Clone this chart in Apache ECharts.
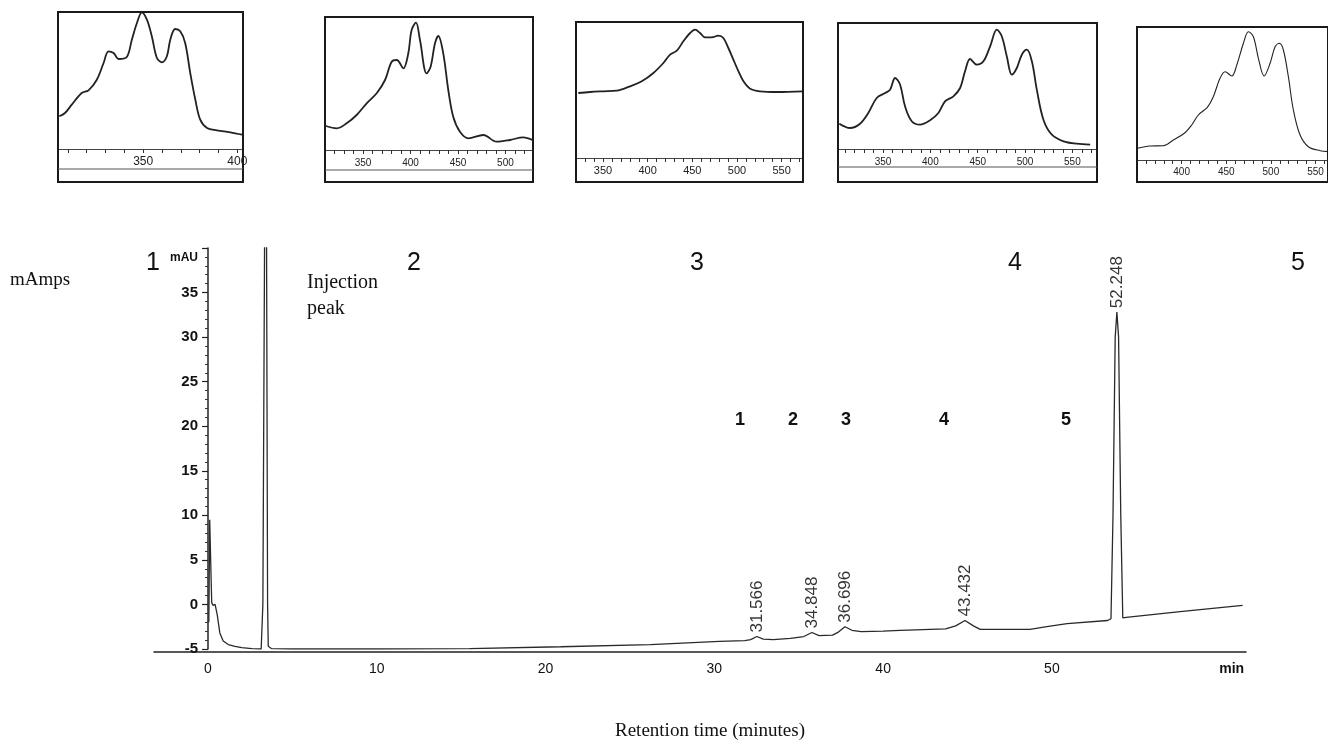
<!DOCTYPE html>
<html>
<head>
<meta charset="utf-8">
<script src="https://cdn.jsdelivr.net/npm/echarts@6/dist/echarts.min.js"></script>
<style>
html,body{margin:0;padding:0;background:#fff;}
#c{width:1328px;height:746px;}
</style>
</head>
<body>
<div id="c"></div>
<script>
// ---------- main chromatogram (time in min, signal in mAU) ----------
const traceTime = [0.05,0.1,0.16,0.22,0.3,0.42,0.55,0.7,0.9,1.2,1.6,2.0,2.6,3.15,
  3.25,3.35,3.42,3.47,3.53,3.57,3.65,3.75,5,10,15.5,20.9,26.2,30.3,31.8,32.15,32.52,32.9,
  33.5,34.5,35.3,35.78,36.2,37.0,37.35,37.74,38.15,38.7,40.0,41.0,43.7,44.3,44.85,45.35,
  45.75,48.7,49.7,50.9,53.3,53.5,53.62,53.75,53.85,53.95,54.08,54.2,54.4,57.6,61.3];
const traceSignal = [-2,9.5,9.3,0.2,-0.1,0.0,-1.2,-3.2,-4.1,-4.5,-4.7,-4.85,-4.95,-5.0,
  0,40,90,40,0,-4.7,-4.6,-4.95,-5.0,-5.0,-4.95,-4.75,-4.5,-4.15,-4.05,-3.95,-3.6,-3.9,
  -3.95,-3.8,-3.6,-3.15,-3.5,-3.45,-3.1,-2.5,-2.9,-3.05,-3.0,-2.9,-2.75,-2.4,-1.8,-2.4,
  -2.8,-2.8,-2.5,-2.15,-1.8,-1.6,10,30,32.8,30,10,-1.5,-1.45,-0.8,-0.1];

const peakTime = [32.52, 35.78, 37.74, 44.85, 53.85];
const peakSignal = [-3.6, -3.15, -2.5, -1.8, 32.8];
const peakLabels = ['31.566', '34.848', '36.696', '43.432', '52.248'];

const xTickValues = [0, 10, 20, 30, 40, 50, 60];
const xTickLabels = ['0', '10', '20', '30', '40', '50', 'min'];
const yTopLabel = 'mAU';

// ---------- inset spectra (wavelength nm, relative absorbance) ----------
const spec1Nm = [305.5,308.5,312.1,317.4,321,325.4,329,331.6,334.3,337,341.3,344,346.7,349.3,352,354.6,357.3,360,362.6,364.4,367,369.7,372.3,375,377.7,380.3,383.9,389.2,396.3,402.5];
const spec1Abs = [32.7,36,44.3,56,58.7,69.3,86,97.7,96,90,92,109.3,126,136.7,129.3,112.7,91,86.7,92.7,109.3,120,117.7,106,76,49.3,29.3,21,18.7,16.7,14.3];
const spec2Nm = [311,322.3,332.8,343.3,353.9,364.4,373.2,380.2,385.5,392.5,397.7,401.2,405.8,410,417,421.2,425.8,429.3,434.5,439.8,445,452.1,460.9,476.7,490.7,504.7,518.8,528.6];
const spec2Abs = [24,21.7,26.7,35,46.7,56.7,70,88.3,90,81.7,96.7,120,127.3,110,76.7,83.3,106.7,114,96.7,60,33.3,18.3,11.7,15,8.3,10,12.7,10];
const spec3Nm = [322.3,335.4,350.3,365.3,380.2,393.4,406.4,417.6,425.1,432.6,440,447.5,453.1,458.7,464.3,471.8,479.2,484.8,490.4,496,501.7,507.3,514.8,526,544.7,574];
const spec3Abs = [65,66,66.7,67.3,71.7,76.7,85,95,103.3,107.3,116.7,125,128.3,125,120.7,120.7,122.3,120,110,98.3,86.7,76.7,69.3,66.7,66,66.7];
const spec4Nm = [303.8,315.1,325.7,334.4,343.3,352.1,357.4,362.7,368,373.2,380.3,389.1,399.7,408.4,415.5,424.3,431.4,436.6,441.9,449,456,463.1,470.2,475.4,480.7,486,491.3,496.6,501.9,507.2,512.4,519.4,528.3,540.6,554.7,568.8];
const spec4Abs = [25.3,21,25.3,36,51,56,59.3,71,64.3,42.7,27.7,24.3,28.7,36,47.7,52.7,61,77.7,90,84.3,87.7,102.7,119.3,112.7,92.7,74.3,81,94.3,99.3,87.7,59.3,29.3,14.3,7.7,5.3,4.3];
const spec5Nm = [350.4,364.6,379.5,390.7,403.8,411.3,418.7,428.8,435.5,443,448.7,456.2,461.8,469.2,474.8,480.4,486,492.4,499.1,504.7,509.5,514,519.6,525.2,532.7,542,555.2,564.5];
const spec5Abs = [11.7,14,14.3,20,27.3,35,45,52.7,63.3,81.7,88.3,84,95,116.7,128.3,123.3,101.7,84,96.7,113.3,116.7,110,83.3,50,25,13.3,9.3,8.3];

const specLabels1 = [350, 400];
const specLabels2 = [350, 400, 450, 500];
const specLabels3 = [350, 400, 450, 500, 550];
const specLabels4 = [350, 400, 450, 500, 550];
const specLabels5 = [400, 450, 500, 550];
const specTicks1 = [310,320,330,340,350,360,370,380,390,400];
const specTicks2 = [320,330,340,350,360,370,380,390,400,410,420,430,440,450,460,470,480,490,500,510,520];
const specTicks3 = [330,340,350,360,370,380,390,400,410,420,430,440,450,460,470,480,490,500,510,520,530,540,550,560,570];
const specTicks4 = [310,320,330,340,350,360,370,380,390,400,410,420,430,440,450,460,470,480,490,500,510,520,530,540,550,560,570];
const specTicks5 = [360,370,380,390,400,410,420,430,440,450,460,470,480,490,500,510,520,530,540,550,560];

const regionLabels = ['1', '2', '3', '4', '5'];
const peakNumbers = ['1', '2', '3', '4', '5'];

// ---------- build ----------
const zip = (a, b) => a.map((v, i) => [v, b[i]]);
const SANS = 'Liberation Sans, Arial, Helvetica, sans-serif';
const SERIF = 'Liberation Serif, Times New Roman, serif';

const insetBoxes = [
  {left: 58, top: 12, width: 185, height: 137, boxH: 170, xmin: 304.8, xmax: 403, ymax: 137, labels: specLabels1, ticks: specTicks1, fs: 12, margin: 7, nm: spec1Nm, abs: spec1Abs, lw: 1.8, second: 169},
  {left: 325, top: 17, width: 208, height: 133, boxH: 165, xmin: 310, xmax: 529, ymax: 133, labels: specLabels2, ticks: specTicks2, fs: 10, margin: 8, nm: spec2Nm, abs: spec2Abs, lw: 1.8, second: 170},
  {left: 576, top: 22, width: 227, height: 136, boxH: 160, xmin: 319.7, xmax: 574, ymax: 136, labels: specLabels3, ticks: specTicks3, fs: 11, margin: 7, nm: spec3Nm, abs: spec3Abs, lw: 1.8, second: null},
  {left: 838, top: 23, width: 259, height: 126, boxH: 159, xmin: 302.4, xmax: 576, ymax: 126, labels: specLabels4, ticks: specTicks4, fs: 10, margin: 8, nm: spec4Nm, abs: spec4Abs, lw: 1.8, second: 167},
  {left: 1137, top: 27, width: 191, height: 133, boxH: 155, xmin: 350, xmax: 564, ymax: 133, labels: specLabels5, ticks: specTicks5, fs: 10, margin: 7, nm: spec5Nm, abs: spec5Abs, lw: 1.1, second: null}
];

const grids = [{left: 154, top: 248, width: 1092, height: 401}];
const xAxes = [{
  type: 'value', gridIndex: 0, min: -3.2, max: 61.5, offset: 3,
  axisLine: {onZero: false, lineStyle: {color: '#222', width: 1.5}},
  axisTick: {show: false},
  splitLine: {show: false},
  axisLabel: {
    customValues: xTickValues,
    formatter: v => { const i = xTickValues.indexOf(v); const s = i >= 0 ? xTickLabels[i] : ''; return s === 'min' ? '{m|min}' : s; },
    rich: {m: {fontFamily: SANS, fontSize: 14, fontWeight: 'bold', color: '#111', padding: [0, 0, 0, 22]}},
    color: '#111', fontFamily: SANS, fontSize: 14, margin: 10
  }
}];
const yAxes = [{
  type: 'value', gridIndex: 0, min: -5, max: 40, interval: 5, offset: -54,
  axisLine: {show: true, onZero: false, lineStyle: {color: '#222', width: 1.5}},
  axisTick: {show: true, length: 6, lineStyle: {color: '#222', width: 1.2}},
  minorTick: {show: true, splitNumber: 5, length: 3, lineStyle: {color: '#333', width: 1}},
  splitLine: {show: false},
  axisLabel: {
    formatter: v => v === 40 ? '{u|' + yTopLabel + '}' : String(v),
    rich: {u: {fontFamily: SANS, fontSize: 12, fontWeight: 'bold', color: '#111', padding: [20, 0, 0, 0]}},
    color: '#111', fontFamily: SANS, fontSize: 15, fontWeight: 'bold', margin: 10
  }
}];

const series = [
  {
    type: 'line', xAxisIndex: 0, yAxisIndex: 0, data: zip(traceTime, traceSignal),
    showSymbol: false, symbol: 'none', clip: true, smooth: false,
    lineStyle: {color: '#2a2a2a', width: 1.3}, z: 3
  },
  {
    type: 'scatter', xAxisIndex: 0, yAxisIndex: 0, data: zip(peakTime, peakSignal),
    symbolSize: 0, silent: true, z: 4,
    label: {
      show: true, position: 'top', distance: 4, rotate: 90, align: 'left', verticalAlign: 'middle',
      formatter: p => peakLabels[p.dataIndex], fontFamily: SANS, fontSize: 17, color: '#000'
    }
  }
];

const graphics = [];
insetBoxes.forEach((b, k) => {
  const gi = k + 1;
  grids.push({left: b.left, top: b.top, width: b.width, height: b.height});
  xAxes.push({
    type: 'value', gridIndex: gi, min: b.xmin, max: b.xmax,
    axisLine: {onZero: false, lineStyle: {color: '#444', width: 1}},
    axisTick: {show: true, customValues: b.ticks, length: 4, lineStyle: {color: '#333', width: 1}},
    splitLine: {show: false},
    axisLabel: {customValues: b.labels, color: '#222', fontFamily: SANS, fontSize: b.fs, margin: b.margin}
  });
  yAxes.push({type: 'value', gridIndex: gi, min: 0, max: b.ymax, show: false, splitLine: {show: false}});
  series.push({
    type: 'line', xAxisIndex: gi, yAxisIndex: gi, data: zip(b.nm, b.abs),
    showSymbol: false, symbol: 'none', smooth: 0.35, clip: true,
    lineStyle: {color: '#222', width: b.lw}
  });
  graphics.push({
    type: 'rect', shape: {x: b.left, y: b.top, width: b.width, height: b.boxH},
    style: {fill: 'none', stroke: '#1a1a1a', lineWidth: 2}, z: 10, silent: true
  });
  if (b.second) {
    graphics.push({
      type: 'line', shape: {x1: b.left, y1: b.second, x2: b.left + b.width, y2: b.second},
      style: {stroke: '#555', lineWidth: 1}, z: 10, silent: true
    });
  }
});

const regionX = [153, 414, 697, 1015, 1298];
regionLabels.forEach((t, i) => graphics.push({
  type: 'text', x: regionX[i], y: 263, silent: true,
  style: {text: t, fontFamily: SANS, fontSize: 25, fill: '#111', textAlign: 'center', textVerticalAlign: 'middle'}
}));
const peakNumX = [740, 793, 846, 944, 1066];
peakNumbers.forEach((t, i) => graphics.push({
  type: 'text', x: peakNumX[i], y: 420, silent: true,
  style: {text: t, fontFamily: SANS, fontSize: 18, fontWeight: 'bold', fill: '#111', textAlign: 'center', textVerticalAlign: 'middle'}
}));
graphics.push(
  {type: 'text', x: 10, y: 280, silent: true, style: {text: 'mAmps', fontFamily: SERIF, fontSize: 19, fill: '#111', textAlign: 'left', textVerticalAlign: 'middle'}},
  {type: 'text', x: 307, y: 283, silent: true, style: {text: 'Injection', fontFamily: SERIF, fontSize: 20, fill: '#111', textAlign: 'left', textVerticalAlign: 'middle'}},
  {type: 'text', x: 307, y: 309, silent: true, style: {text: 'peak', fontFamily: SERIF, fontSize: 20, fill: '#111', textAlign: 'left', textVerticalAlign: 'middle'}},
  {type: 'text', x: 710, y: 731, silent: true, style: {text: 'Retention time (minutes)', fontFamily: SERIF, fontSize: 19, fill: '#111', textAlign: 'center', textVerticalAlign: 'middle'}}
);

const chart = echarts.init(document.getElementById('c'), null, {renderer: 'canvas'});
chart.setOption({
  animation: false,
  backgroundColor: '#fff',
  grid: grids,
  xAxis: xAxes,
  yAxis: yAxes,
  series: series,
  graphic: graphics
});
</script>
</body>
</html>
